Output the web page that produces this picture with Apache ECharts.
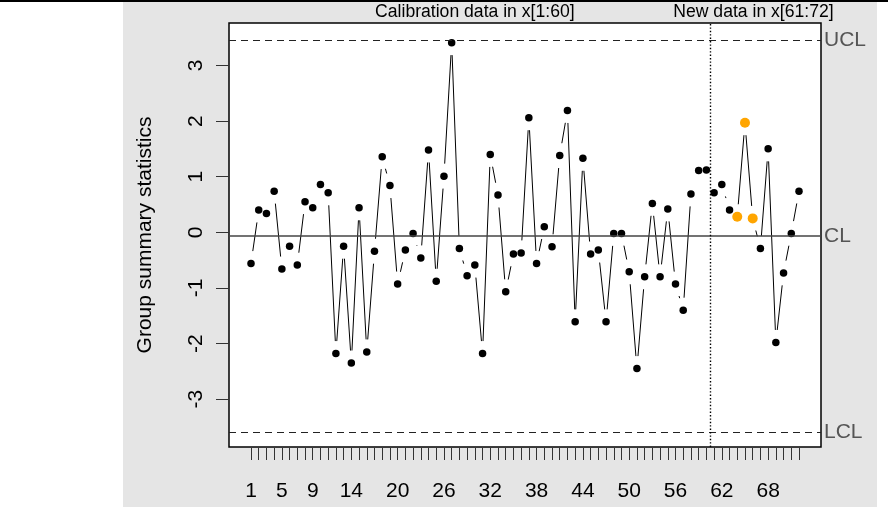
<!DOCTYPE html>
<html>
<head>
<meta charset="utf-8">
<script src="https://cdn.jsdelivr.net/npm/echarts@6/dist/echarts.min.js"></script>
<style>
    html, body { margin: 0; padding: 0; background: #fff; }
    #chart { width: 888px; height: 507px; }
</style>
</head>
<body>
<div id="chart"></div>
<script>
// group summary statistics, samples 1..72
var stats = [
    -0.56, 0.40, 0.34, 0.74, -0.66, -0.25, -0.59, 0.55, 0.44, 0.86,
    0.71, -2.18, -0.25, -2.35, 0.44, -2.15, -0.34, 1.36, 0.84, -0.93,
    -0.32, -0.02, -0.46, 1.48, -0.88, 1.01, 3.41, -0.29, -0.78, -0.59,
    -2.18, 1.40, 0.67, -1.07, -0.39, -0.37, 2.06, -0.56, 0.10, -0.26,
    1.38, 2.19, -1.61, 1.33, -0.39, -0.32, -1.61, -0.02, -0.02, -0.71,
    -2.45, -0.80, 0.52, -0.80, 0.42, -0.93, -1.40, 0.69, 1.11, 1.12,
    0.71, 0.86, 0.40, 0.28, 1.97, 0.25, -0.29, 1.50, -1.98, -0.73,
    -0.02, 0.74
];
// points flagged as violating runs (orange)
var violating = [64, 65, 66];

var limits = { UCL: 3.46, CL: -0.065, LCL: -3.60 };
var newDataStart = 60.5;

var xTickValues = [];
for (var k = 1; k <= stats.length; k++) xTickValues.push(k);
var xLabelValues = [1, 5, 9, 14, 20, 26, 32, 38, 44, 50, 56, 62, 68];
var yLabelValues = [-3, -2, -1, 0, 1, 2, 3];

var sectionCenters = [30, 66.1];
var sectionTitles = ['Calibration data in x[1:60]', 'New data in x[61:72]'];

var FONT = '"Liberation Sans", Arial, sans-serif';
var GAP = 12.5; // R type="b" leaves a gap around each point

var segments = [];
for (var i = 0; i < stats.length - 1; i++) {
    segments.push([i + 1, stats[i], i + 2, stats[i + 1]]);
}
var normalPts = [], violPts = [];
stats.forEach(function (v, idx) {
    var n = idx + 1;
    if (violating.indexOf(n) >= 0) violPts.push([n, v]);
    else normalPts.push([n, v]);
});

function renderSegment(params, api) {
    var p = api.coord([api.value(0), api.value(1)]);
    var q = api.coord([api.value(2), api.value(3)]);
    var dx = q[0] - p[0], dy = q[1] - p[1];
    var d = Math.sqrt(dx * dx + dy * dy);
    if (d <= 2 * GAP) return null;
    var ux = dx / d, uy = dy / d;
    return {
        type: 'line',
        shape: {
            x1: p[0] + ux * GAP, y1: p[1] + uy * GAP,
            x2: q[0] - ux * GAP, y2: q[1] - uy * GAP
        },
        style: { stroke: '#000', lineWidth: 1 }
    };
}

function limitLine(name, value, dash) {
    return {
        yAxis: value,
        lineStyle: { color: name === 'CL' ? '#444' : '#222', width: name === 'CL' ? 1.5 : 1, type: dash },
        label: {
            show: true, position: 'end', distance: 3, formatter: name,
            color: '#555', fontSize: 21, fontFamily: FONT, padding: [6, 0, 0, 0]
        }
    };
}

var chart = echarts.init(document.getElementById('chart'), null, { renderer: 'canvas' });

var option = {
    animation: false,
    backgroundColor: '#fff',
    graphic: [
        { type: 'rect', z: -10, shape: { x: 123, y: 2, width: 754, height: 505 }, style: { fill: '#e5e5e5' } },
        { type: 'line', z: -9, shape: { x1: 0, y1: 1, x2: 888, y2: 1 }, style: { stroke: '#000', lineWidth: 2 } }
    ],
    grid: {
        left: 229, top: 23, right: 67, bottom: 60,
        show: true, backgroundColor: '#fff', borderColor: '#000', borderWidth: 1.5
    },
    xAxis: [{
        type: 'value', min: -1.85, max: 74.85,
        axisLine: { show: false, onZero: false },
        splitLine: { show: false },
        offset: 1,
        axisTick: { show: true, length: 12, customValues: xTickValues, lineStyle: { color: '#333', width: 1 } },
        axisLabel: {
            customValues: xLabelValues, margin: 33, color: '#000',
            fontSize: 21, fontFamily: FONT
        }
    }, {
        type: 'value', position: 'top', min: -1.85, max: 74.85,
        axisLine: { show: false, onZero: false }, axisTick: { show: false }, splitLine: { show: false },
        axisLabel: {
            customValues: sectionCenters, margin: 2, color: '#000', fontSize: 17.6, fontFamily: FONT,
            formatter: function (v) { return sectionTitles[sectionCenters.indexOf(v)]; }
        }
    }],
    yAxis: {
        type: 'value', min: -3.86, max: 3.763,
        name: 'Group summary statistics', nameLocation: 'middle', nameGap: 73,
        nameTextStyle: { fontSize: 21, fontFamily: FONT, color: '#000' },
        axisLine: { show: false, onZero: false },
        splitLine: { show: false },
        axisTick: { show: true, length: 13, customValues: yLabelValues, lineStyle: { color: '#333', width: 1 } },
        axisLabel: {
            customValues: yLabelValues, rotate: 90, margin: 22, color: '#000',
            fontSize: 21, fontFamily: FONT
        }
    },
    series: [{
        type: 'custom',
        data: segments,
        encode: { x: [0, 2], y: [1, 3] },
        renderItem: renderSegment,
        silent: true,
        z: 2
    }, {
        type: 'scatter',
        data: normalPts,
        symbolSize: 7.5,
        itemStyle: { color: '#000', opacity: 1 },
        z: 3,
        markLine: {
            silent: true, symbol: ['none', 'none'],
            data: [
                limitLine('UCL', limits.UCL, [7, 5]),
                limitLine('CL', limits.CL, 'solid'),
                limitLine('LCL', limits.LCL, [7, 5]),
                { xAxis: newDataStart, lineStyle: { color: '#000', width: 1.4, type: [1.4, 2] }, label: { show: false } }
            ]
        }
    }, {
        type: 'scatter',
        data: violPts,
        symbolSize: 10,
        itemStyle: { color: '#FFA500', opacity: 1 },
        z: 4
    }]
};

chart.setOption(option);
</script>
</body>
</html>
